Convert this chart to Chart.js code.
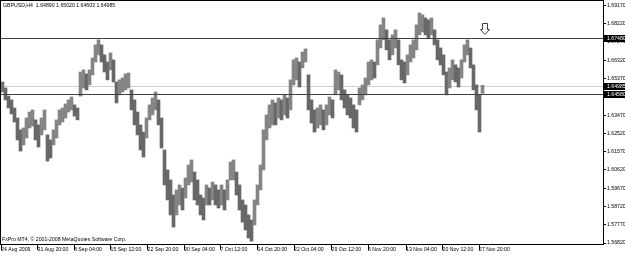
<!DOCTYPE html>
<html>
<head>
<meta charset="utf-8">
<script src="https://cdn.jsdelivr.net/npm/chart.js@4.4.0/dist/chart.umd.min.js"></script>
<style>
  html, body { margin: 0; padding: 0; background: #fff; }
  canvas { display: block; }
</style>
</head>
<body>
<canvas id="chart" width="625" height="256"></canvas>
<script>
// GBPUSD H4, 24 Aug - 27 Nov 2009. One sample = 3 H4 bars (high / low)
const symbolTitle = 'GBPUSD,H4  1.64890 1.65020 1.64603 1.64985';
const copyright = 'FxPro MT4, \u00A9 2001-2008 MetaQuotes Software Corp.';
const barsPerSample = 3;

const barHighs = [
  1.6519, 1.6488, 1.6446, 1.6426, 1.6384, 1.6332, 1.6270, 1.6280, 1.6332, 1.6363,
  1.6374, 1.6322, 1.6296, 1.6332, 1.6374, 1.6244, 1.6218, 1.6270, 1.6322, 1.6374,
  1.6384, 1.6405, 1.6426, 1.6441, 1.6400, 1.6384, 1.6571, 1.6582, 1.6561, 1.6582,
  1.6644, 1.6712, 1.6738, 1.6712, 1.6660, 1.6623, 1.6670, 1.6634, 1.6519, 1.6530,
  1.6540, 1.6561, 1.6566, 1.6478, 1.6426, 1.6363, 1.6296, 1.6259, 1.6332, 1.6400,
  1.6436, 1.6467, 1.6426, 1.6332, 1.6166, 1.6062, 1.6010, 1.5932, 1.5958, 1.5984,
  1.5968, 1.6020, 1.6088, 1.6114, 1.6051, 1.6010, 1.5932, 1.5916, 1.5984, 1.5968,
  1.5999, 1.5984, 1.5958, 1.5984, 1.5958, 1.6010, 1.6103, 1.6114, 1.6051, 1.5984,
  1.5906, 1.5880, 1.5828, 1.5802, 1.5906, 1.5984, 1.6088, 1.6270, 1.6348, 1.6400,
  1.6426, 1.6410, 1.6436, 1.6426, 1.6452, 1.6436, 1.6530, 1.6634, 1.6644, 1.6623,
  1.6675, 1.6691, 1.6556, 1.6426, 1.6374, 1.6384, 1.6400, 1.6374, 1.6400, 1.6441,
  1.6426, 1.6582, 1.6571, 1.6556, 1.6478, 1.6452, 1.6436, 1.6400, 1.6374, 1.6488,
  1.6504, 1.6540, 1.6623, 1.6634, 1.6623, 1.6738, 1.6816, 1.6852, 1.6790, 1.6738,
  1.6764, 1.6790, 1.6738, 1.6634, 1.6623, 1.6660, 1.6712, 1.6738, 1.6816, 1.6878,
  1.6868, 1.6852, 1.6842, 1.6852, 1.6790, 1.6738, 1.6696, 1.6660, 1.6571, 1.6592,
  1.6634, 1.6608, 1.6592, 1.6634, 1.6712, 1.6738, 1.6696, 1.6608, 1.6504, 1.6452,
  1.6502
];

const barLows = [
  1.6467, 1.6426, 1.6384, 1.6353, 1.6311, 1.6218, 1.6160, 1.6192, 1.6228, 1.6280,
  1.6290, 1.6218, 1.6181, 1.6244, 1.6270, 1.6108, 1.6124, 1.6192, 1.6228, 1.6296,
  1.6311, 1.6332, 1.6363, 1.6374, 1.6342, 1.6322, 1.6446, 1.6488, 1.6478, 1.6504,
  1.6556, 1.6623, 1.6660, 1.6623, 1.6571, 1.6530, 1.6582, 1.6519, 1.6410, 1.6452,
  1.6467, 1.6478, 1.6488, 1.6374, 1.6296, 1.6244, 1.6166, 1.6129, 1.6228, 1.6322,
  1.6348, 1.6374, 1.6296, 1.6176, 1.5984, 1.5906, 1.5828, 1.5765, 1.5828, 1.5880,
  1.5854, 1.5916, 1.5984, 1.5999, 1.5906, 1.5880, 1.5828, 1.5802, 1.5880, 1.5880,
  1.5906, 1.5880, 1.5864, 1.5880, 1.5854, 1.5906, 1.6010, 1.6010, 1.5932, 1.5854,
  1.5791, 1.5750, 1.5708, 1.5692, 1.5776, 1.5880, 1.5958, 1.6062, 1.6218, 1.6280,
  1.6296, 1.6296, 1.6332, 1.6322, 1.6348, 1.6332, 1.6374, 1.6504, 1.6530, 1.6493,
  1.6592, 1.6623, 1.6374, 1.6306, 1.6259, 1.6280, 1.6296, 1.6270, 1.6296, 1.6348,
  1.6332, 1.6452, 1.6478, 1.6426, 1.6384, 1.6348, 1.6332, 1.6280, 1.6259, 1.6400,
  1.6426, 1.6452, 1.6504, 1.6530, 1.6540, 1.6608, 1.6696, 1.6738, 1.6686, 1.6634,
  1.6660, 1.6696, 1.6608, 1.6530, 1.6514, 1.6556, 1.6623, 1.6644, 1.6686, 1.6764,
  1.6779, 1.6764, 1.6748, 1.6764, 1.6712, 1.6634, 1.6608, 1.6556, 1.6452, 1.6488,
  1.6530, 1.6519, 1.6493, 1.6540, 1.6623, 1.6660, 1.6592, 1.6478, 1.6374, 1.6259,
  1.6460
];

// time axis: bar index of each separator and its text
const timeTickBars = [-1.5, 35, 71.5, 108, 145, 181.5, 218, 255, 291.5, 329, 365.5, 403.5, 440, 476.5];
const timeTickLabels = ['24 Aug 2009', '31 Aug 20:00', '8 Sep 04:00', '15 Sep 12:00', '22 Sep 20:00',
  '30 Sep 04:00', '7 Oct 12:00', '14 Oct 20:00', '22 Oct 04:00', '29 Oct 12:00', '5 Nov 20:00',
  '13 Nov 04:00', '20 Nov 12:00', '27 Nov 20:00'];

const priceTicks = [1.69170, 1.68220, 1.67270, 1.66320, 1.65370, 1.64420, 1.63470,
  1.62520, 1.61570, 1.60620, 1.59670, 1.58720, 1.57770, 1.56820];

const levelLines = [1.67480, 1.64580];
const bidPrice = 1.64985;
const arrowBar = 482.5;
const arrowPrice = 1.6826;

const FONT = '"Liberation Sans", Arial, sans-serif';
const FSIZE = 5.2;

const mt4Overlay = {
  id: 'mt4Overlay',
  beforeDatasetsDraw(chart) {
    const ctx = chart.ctx, a = chart.chartArea, y = chart.scales.y;
    const by = Math.round(y.getPixelForValue(bidPrice)) + 0.5;
    ctx.save();
    ctx.strokeStyle = '#d0d0d0';
    ctx.lineWidth = 1;
    ctx.beginPath();
    ctx.moveTo(a.left, by);
    ctx.lineTo(a.right, by);
    ctx.stroke();
    ctx.restore();
  },
  afterDraw(chart) {
    const ctx = chart.ctx, a = chart.chartArea, x = chart.scales.x, y = chart.scales.y;
    ctx.save();
    ctx.lineWidth = 1;

    // horizontal levels
    ctx.strokeStyle = '#404040';
    levelLines.forEach(v => {
      const py = Math.round(y.getPixelForValue(v)) + 0.5;
      ctx.beginPath();
      ctx.moveTo(a.left, py);
      ctx.lineTo(a.right, py);
      ctx.stroke();
    });

    // frame
    ctx.strokeStyle = '#000';
    ctx.strokeRect(a.left - 0.5, a.top - 0.5, a.right - a.left + 1, a.bottom - a.top + 1);

    // hollow down arrow
    const ax = x.getPixelForValue(arrowBar), ay = Math.round(y.getPixelForValue(arrowPrice)) + 0.5;
    ctx.beginPath();
    ctx.moveTo(ax - 2.5, ay);
    ctx.lineTo(ax + 2.5, ay);
    ctx.lineTo(ax + 2.5, ay + 6);
    ctx.lineTo(ax + 4.5, ay + 6);
    ctx.lineTo(ax, ay + 11);
    ctx.lineTo(ax - 4.5, ay + 6);
    ctx.lineTo(ax - 2.5, ay + 6);
    ctx.closePath();
    ctx.fillStyle = '#fff';
    ctx.fill();
    ctx.strokeStyle = '#404040';
    ctx.stroke();

    // texts
    ctx.font = FSIZE + 'px ' + FONT;
    ctx.fillStyle = '#000';
    ctx.textBaseline = 'middle';
    ctx.textAlign = 'left';
    ctx.fillText(symbolTitle, 3, 6);
    ctx.fillText(copyright, 2, 240);

    // price labels on the scale
    [levelLines[0], bidPrice, levelLines[1]].forEach(v => {
      const py = Math.round(y.getPixelForValue(v));
      ctx.fillStyle = '#000';
      ctx.fillRect(a.right + 1, py - 3, chart.width - a.right, 7);
      ctx.fillStyle = '#fff';
      ctx.fillText(v.toFixed(5), a.right + 4, py + 0.5);
    });
    ctx.restore();
  }
};

new Chart(document.getElementById('chart'), {
  type: 'bar',
  data: {
    datasets: [{
      data: barHighs.map((h, i) => ({ x: i * barsPerSample, y: [barLows[i], h] })),
      backgroundColor: ctx => {
        const i = ctx.dataIndex;
        if (i === 0) return '#747474';
        return (barHighs[i] + barLows[i]) >= (barHighs[i - 1] + barLows[i - 1]) ? '#858585' : '#686868';
      },
      borderWidth: 0,
      barPercentage: 1,
      categoryPercentage: 1
    }]
  },
  options: {
    responsive: false,
    animation: false,
    layout: { padding: { left: 1, top: 1, right: 0, bottom: 0 } },
    plugins: { legend: { display: false }, tooltip: { enabled: false } },
    scales: {
      x: {
        type: 'linear',
        min: -1.5,
        max: 600.5,
        offset: false,
        afterBuildTicks: s => { s.ticks = timeTickBars.map(v => ({ value: v })); },
        afterFit: s => { s.height = 12; s.paddingLeft = 0; s.paddingRight = 0; },
        grid: { offset: false, drawOnChartArea: false, drawTicks: true, tickLength: 6, color: '#000' },
        border: { display: true, color: '#000' },
        ticks: {
          autoSkip: false,
          maxRotation: 0,
          align: 'start',
          padding: -4,
          color: '#000',
          font: { family: FONT, size: FSIZE },
          callback: (v, i) => timeTickLabels[i]
        }
      },
      y: {
        position: 'right',
        min: 1.5677,
        max: 1.6940,
        afterBuildTicks: s => { s.ticks = priceTicks.map(v => ({ value: v })); },
        afterFit: s => { s.width = 22; s.paddingTop = 0; s.paddingBottom = 0; },
        grid: { drawOnChartArea: false, drawTicks: true, tickLength: 3, color: '#000' },
        border: { display: true, color: '#000' },
        ticks: {
          padding: 1,
          color: '#000',
          font: { family: FONT, size: FSIZE },
          callback: v => v.toFixed(5)
        }
      }
    }
  },
  plugins: [mt4Overlay]
});
</script>
</body>
</html>
